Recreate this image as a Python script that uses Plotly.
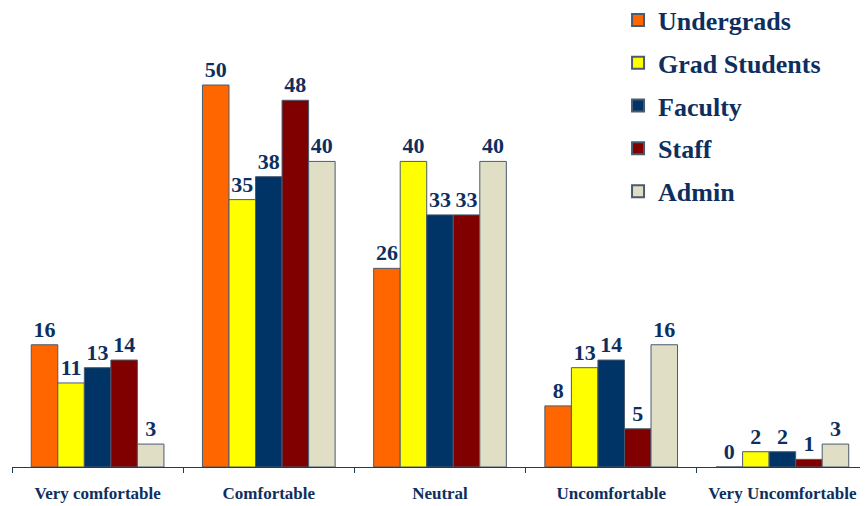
import plotly.graph_objects as go

categories = ["Very comfortable", "Comfortable", "Neutral", "Uncomfortable", "Very Uncomfortable"]
series_names = ["Undergrads", "Grad Students", "Faculty", "Staff", "Admin"]
undergrads = [16, 50, 26, 8, 0]
grad_students = [11, 35, 40, 13, 2]
faculty = [13, 38, 33, 14, 2]
staff = [14, 48, 33, 5, 1]
admin = [3, 40, 40, 16, 3]
values = [undergrads, grad_students, faculty, staff, admin]
colors = ["#FF6600", "#FFFF00", "#003366", "#800000", "#E0DFC6"]

navy = "#0E2F5E"
serif = "Times New Roman, Liberation Serif, serif"
fig = go.Figure()
for i, (name, vals, col) in enumerate(zip(series_names, values, colors)):
    fig.add_trace(go.Bar(
        x=categories, y=vals, name=name,
        marker=dict(color=col, line=dict(color="#4A5A70", width=1)),
        text=vals, textposition="outside", cliponaxis=False,
        textfont=dict(family=serif, size=22, color=navy, weight="bold"),
        legendgroup=f"g{i}",
    ))

fig.update_layout(
    width=860, height=498,
    margin=dict(l=4, r=0, t=0, b=39, autoexpand=False),
    paper_bgcolor="white", plot_bgcolor="white",
    barmode="group", bargap=0.225, bargroupgap=0,
    showlegend=True,
    legend=dict(x=0.708, y=1.025, xanchor="left", yanchor="top",
                font=dict(family=serif, size=26, color=navy, weight="bold"),
                traceorder="grouped", tracegroupgap=6, itemsizing="constant",
                bgcolor="rgba(0,0,0,0)"),
    xaxis=dict(showline=True, linecolor="#1F3A60", linewidth=1,
               ticks="outside", tickson="boundaries", ticklen=5, tickcolor="#1F3A60",
               tickfont=dict(family=serif, size=17, color=navy, weight="bold"),
               ticklabelstandoff=11, showgrid=False, automargin=False),
    yaxis=dict(visible=False, range=[0, 60.08]),
)
fig.write_html("out.html")
